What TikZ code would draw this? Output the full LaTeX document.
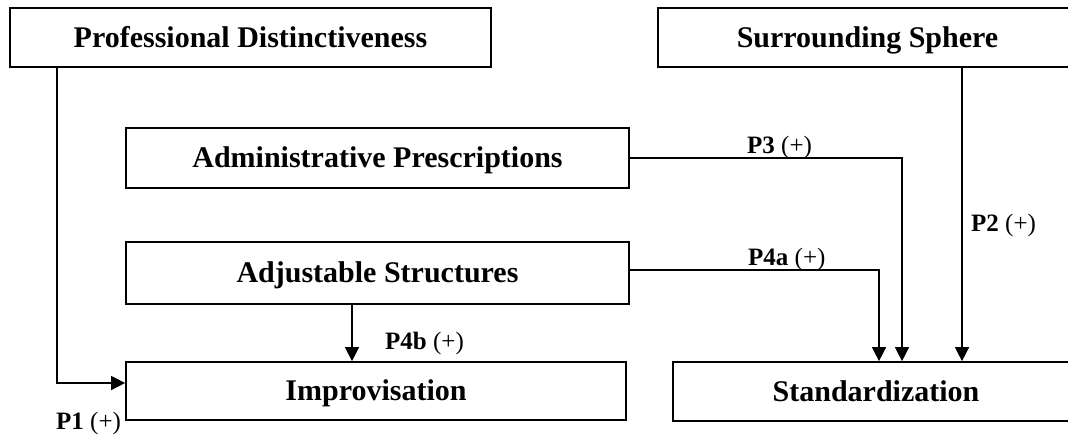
\documentclass[tikz,border=0pt]{standalone}
\usepackage{fontspec}
\setmainfont{Liberation Serif}
\usetikzlibrary{arrows.meta}
\begin{document}
\begin{tikzpicture}[x=1pt,y=-1pt,
  box/.style={draw=black,line width=1.7pt,rectangle,inner sep=0pt,
    text height=20pt,text depth=1pt,
    font=\fontsize{30}{36}\selectfont\bfseries},
  arr/.style={line width=1.4pt,-{Triangle[length=14pt,width=14pt]}},
  lbl/.style={anchor=base west,inner sep=0pt,font=\fontsize{25}{30}\selectfont}]
\useasboundingbox (0,0) rectangle (1068,437);
\clip (0,0) rectangle (1068,437);
\node[box,minimum width=481pt,minimum height=59pt] (pd) at (250.5,37.5) {Professional Distinctiveness};
\node[box,minimum width=419pt,minimum height=59pt] (ss) at (867.5,37.5) {Surrounding Sphere};
\node[box,minimum width=503pt,minimum height=60pt] (ap) at (377.5,158) {Administrative Prescriptions};
\node[box,minimum width=503pt,minimum height=62pt] (as) at (377.5,273) {Adjustable Structures};
\node[box,minimum width=500pt,minimum height=58pt] (im) at (376,391) {Improvisation};
\node[box,minimum width=406pt,minimum height=59pt] (st) at (876,391.5) {Standardization};
% connectors
\draw[arr] ([xshift=48pt]pd.south west) |- ([yshift=8pt]im.west);
\draw[arr] ([xshift=-25.5pt]as.south) -- ([xshift=-25.5pt]as.south |- im.north);
\draw[arr] (ap.east) -| ([xshift=26pt]st.north);
\draw[arr] ([yshift=3pt]as.east) -| ([xshift=3pt]st.north);
\draw[arr] ([xshift=94.5pt]ss.south) -- ([xshift=86pt]st.north);
% labels
\node[lbl] (l3) at (747,153) {\textbf{P3} (+)};
\node[lbl] (l4a) at (748,265) {\textbf{P4a} (+)};
\node[lbl] (l2) at (971,231) {\textbf{P2} (+)};
\node[lbl] (l4b) at (385,349) {\textbf{P4b} (+)};
\node[lbl] (l1) at (56,429) {\textbf{P1} (+)};
\end{tikzpicture}
\end{document}
